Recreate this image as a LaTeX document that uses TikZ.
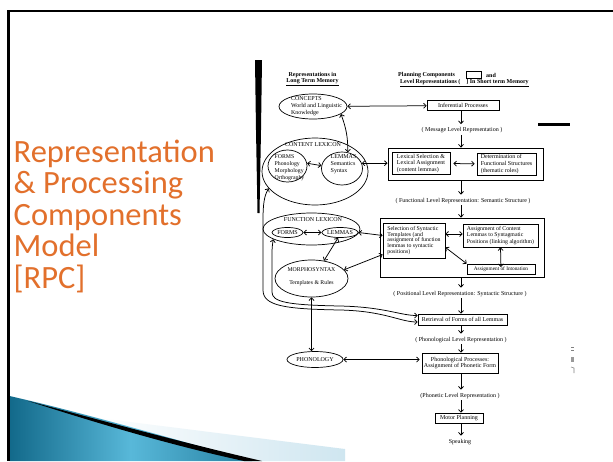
\documentclass[tikz,border=0pt]{standalone}
\usepackage{fontspec}
\setmainfont{Liberation Serif}
\newfontfamily\titlefont{Carlito}
\usetikzlibrary{arrows.meta,shapes.geometric}

\definecolor{rpcorange}{HTML}{E2702C}
\definecolor{swdark}{HTML}{12698A}
\definecolor{swlight}{HTML}{58B8D9}
\definecolor{swpale}{HTML}{CFE6F0}

\tikzset{
  title/.style={font=\titlefont\fontsize{32.5}{33}\selectfont, text=rpcorange, anchor=base west, inner sep=0pt},
  hdr/.style={font=\bfseries\fontsize{6}{6.5}\selectfont, inner sep=0pt},
  lbl/.style={font=\fontsize{6}{7}\selectfont, inner sep=0pt},
  proc/.style={draw, line width=0.7pt, inner sep=0pt, align=left, font=\fontsize{6}{6.6}\selectfont},
  store/.style={draw, ellipse, line width=0.7pt, inner sep=0pt, font=\fontsize{6}{7}\selectfont},
  dbl/.style={{Straight Barb[length=2.6pt,width=5pt]}-{Straight Barb[length=2.6pt,width=5pt]}, line width=0.75pt},
  one/.style={-{Straight Barb[length=2.6pt,width=5pt]}, line width=0.75pt},
}

\begin{document}
\begin{tikzpicture}[x=1pt, y=-1pt]
\useasboundingbox (0,0) rectangle (613,461);
\fill[white] (0,0) rectangle (613,461);

% swoosh in the lower left corner
\shade[left color=white, right color=swpale] (90,417) -- (345,449) -- (345,461) -- (250,461) -- cycle;
\shade[left color=swdark, right color=swdark!70!swlight, middle color=swlight]
  (9.5,396) .. controls (80,412) and (170,438) .. (252,461) -- (9.5,461) -- cycle;
\fill[black] (28,401) .. controls (100,420) and (180,442) .. (262,461) -- (244,461)
  .. controls (170,445) and (100,424) .. (28,401) -- cycle;

% slide frame
\draw[line width=2.5pt] (613,11) -- (8.5,11) -- (8.5,461);

% title
\foreach \w [count=\i] in {Representation, {\& Processing}, Components, Model, {[RPC]}}
  \node[title] (title\i) at (13.5, 130.4+31.6*\i) {\w};

% scan edge and stray marks
\fill (255,60) -- (262,60) -- (261,130) -- (259.5,213) -- (257.5,213) -- (256,130) -- cycle;
\draw[line width=3pt] (538,124) -- (570,124);
\draw[gray, line width=0.6pt] (571,347.5) -- (574,347.5) (571,350) -- (574,350);
\fill[gray!80] (571,357) rectangle (574,362);
\draw[gray, line width=0.6pt] (571,367) -- (574,368) -- (574,373);

% headings
\node[hdr] (repHdr) at (312.5,75) {Representations in};
\node[hdr] (ltmHdr) at (312.5,82) {\underline{Long Term Memory}};
\node[hdr, anchor=west] (planHdr) at (398,75) {Planning Components};
\node[proc, minimum width=15, minimum height=7] (keyBox) at (473.5,74.5) {};
\node[hdr, anchor=west] (andHdr) at (486,75.5) {and};
\node[hdr, anchor=west] (lvlHdr) at (400,83) {\underline{Level Representations (\hspace{6pt}] In Short term Memory}};

% long term memory stores
\node[store, minimum width=68, minimum height=25] (concepts) at (313,106.5) {};
\node[lbl, align=left] (conceptsTxt) at (316.5,106.5) {CONCEPTS\\World and Linguistic\\Knowledge};

\node[store, minimum width=106, minimum height=67] (clex) at (315,171.5) {};
\node[lbl] (clexTxt) at (313,144.5) {CONTENT LEXICON};
\node[store, minimum width=39, minimum height=32] (cforms) at (287.5,166) {};
\node[lbl, align=left, font=\fontsize{5.8}{7}\selectfont] (cformsTxt) at (289.5,167.3) {FORMS\\Phonology\\Morphology\\Orthography};
\node[store, minimum width=41, minimum height=33] (clemmas) at (342,168.5) {};
\node[lbl, align=left] (clemmasTxt) at (343.5,164.3) {LEMMAS\\Semantics\\Syntax};

\node[store, minimum width=97, minimum height=32] (flex) at (311.5,229) {};
\node[lbl] (flexTxt) at (313,219.5) {FUNCTION LEXICON};
\node[store, minimum width=31, minimum height=10] (fforms) at (287.5,232.5) {FORMS};
\node[store, minimum width=36, minimum height=10] (flemmas) at (340,232.5) {LEMMAS};

\node[store, minimum width=73, minimum height=37] (morph) at (311.5,278.5) {};
\node[lbl, align=center, font=\fontsize{5.8}{12.5}\selectfont] (morphTxt) at (311.5,276.5) {MORPHOSYNTAX\\Templates \& Rules};

\node[store, minimum width=56, minimum height=16] (phon) at (315,359.5) {PHONOLOGY};

% planning components and level representations
\node[proc, minimum width=72, minimum height=9.5] (infer) at (463,105.5) {Inferential Processes};
\node[lbl] (msgLvl) at (462,130.5) {( Message Level Representation )};

\node[proc, line width=0.9pt, minimum width=155, minimum height=32] (lexBox) at (465.5,164) {};
\node[proc, minimum width=58, minimum height=22] (lexSel) at (421,163.3) {Lexical Selection \&\\Lexical Assignment\\(content lemmas)};
\node[proc, minimum width=59, minimum height=22] (funStr) at (506.5,164) {Determination of\\Functional Structures\\(thematic roles)};
\node[lbl] (funLvl) at (463,201) {( Functional Level Representation: Semantic Structure )};

\node[proc, line width=0.9pt, minimum width=164, minimum height=59] (synBox) at (462,247.5) {};
\node[proc, minimum width=62, minimum height=35, font=\fontsize{5.8}{5.9}\selectfont] (selSyn) at (414,240.5) {Selection of Syntactic\\Templates (and\\assignment of function\\lemmas to syntactic\\positions)};
\node[proc, minimum width=75, minimum height=23, font=\fontsize{5.8}{6.6}\selectfont] (asgCont) at (500.5,235.5) {Assignment of Content\\Lemmas to Syntagmatic\\Positions (linking algorithm)};
\node[proc, minimum width=68, minimum height=10, font=\fontsize{5.3}{6}\selectfont] (inton) at (501,269) {Assignment of Intonation};
\node[lbl] (posLvl) at (460,294) {( Positional Level Representation: Syntactic Structure )};

\node[proc, minimum width=89, minimum height=11] (retr) at (462.5,319.5) {Retrieval of Forms of all Lemmas};
\node[lbl] (phonLvl) at (461,340) {( Phonological Level Representation )};
\node[proc, minimum width=76, minimum height=20, align=center] (phonProc) at (460,363) {Phonological Processes:\\Assignment of Phonetic Form};
\node[lbl] (phoneticLvl) at (460,396) {(Phonetic Level Representation )};
\node[proc, minimum width=48, minimum height=10] (motor) at (459,418) {Motor Planning};
\node[lbl] (speak) at (460,442) {Speaking};

% main downward flow
\coordinate (spine) at (461,0);
\foreach \a/\b in {infer/msgLvl, lexBox/funLvl, synBox/posLvl, retr/phonLvl, phonProc/phoneticLvl, motor/speak}
  \draw[one, shorten >=3.5pt] (\a.south -| spine) -- (\b.north -| spine);
\foreach \a/\b in {msgLvl/lexBox, funLvl/synBox, posLvl/retr, phonLvl/phonProc, phoneticLvl/motor}
  \draw[one, shorten <=1.5pt] (\a.south -| spine) -- (\b.north -| spine);

% two-way links
\draw[dbl] (concepts) -- (infer);
\draw[dbl] (concepts.-15) to[bend left=10] (clemmas.70);
\draw[dbl] (cforms.8) -- (clemmas.172);
\draw[dbl] (clemmas.15) -- (clemmas.15 -| lexBox.west);
\draw[dbl, shorten <=3pt, shorten >=2pt] (lexSel) -- (funStr);
\draw[dbl] (fforms) -- (flemmas);
\draw[dbl] (flemmas.east) -- ([yshift=5pt]selSyn.west);
\draw[dbl] (flemmas.-110) -- (morph.55);
\draw[dbl] (morph.15) -- ([yshift=-14pt]selSyn.west);
\draw[dbl] ([yshift=6.5pt]selSyn.east) -- ([yshift=1.5pt]asgCont.west);
\draw[dbl] ([yshift=11pt]selSyn.south east) -- (inton.north west);
\draw[dbl, shorten >=2pt] (asgCont.south) -- (inton.center);
\draw[dbl] (morph.south) -- (morph.south |- phon.north);
\draw[dbl, shorten >=2pt] (phon) -- (phon -| phonProc.west);

% form retrieval loops
\draw[dbl] (clex.200) .. controls (264,196) and (263,205) .. (263,220) -- (263,290)
  .. controls (263,306) and (285,309) .. (340,310)
  .. controls (385,311) and (400,322) .. ([yshift=-2.5pt]retr.west);
\draw[dbl] (flex.195) .. controls (272,246) and (272,250) .. (272,258) -- (272,292)
  .. controls (272,302) and (287,305) .. (340,306)
  .. controls (385,307) and (400,315.5) .. ([yshift=4pt]retr.west);
\end{tikzpicture}
\end{document}
